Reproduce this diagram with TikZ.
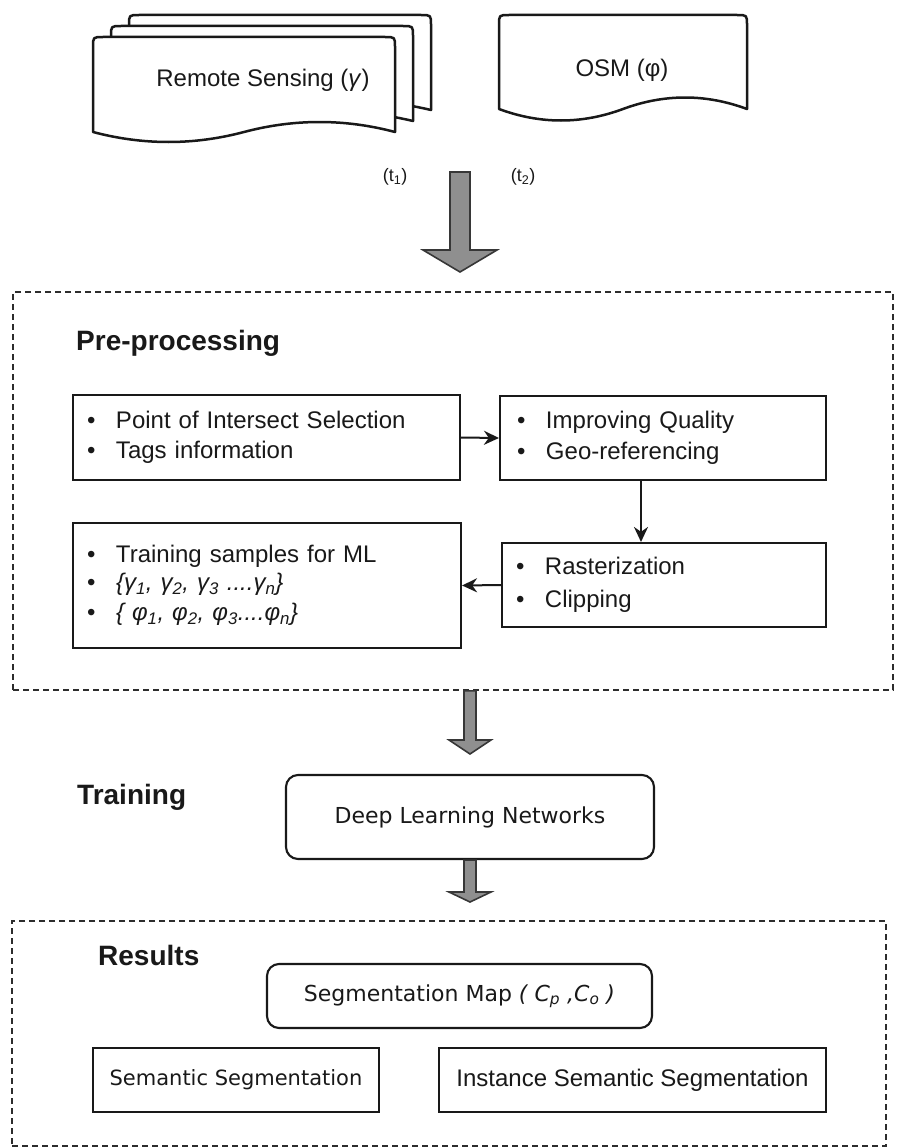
\documentclass[tikz,border=0pt]{standalone}
\usepackage{fontspec}
\setmainfont{Liberation Sans}
\newfontfamily\dejavu{DejaVu Sans}
\usetikzlibrary{arrows.meta,calc}
\definecolor{tcol}{RGB}{25,25,25}
\definecolor{lcol}{RGB}{25,25,25}
\definecolor{dcol}{RGB}{45,45,45}
\definecolor{afill}{RGB}{143,143,143}
\definecolor{aline}{RGB}{55,55,55}
\newcommand{\docshape}[6]{%
  \draw[docline] (#1,#4) -- (#1,{#2+#6}) .. controls (#1,#2) .. ({#1+#6},#2)
    -- ({#3-#6},#2) .. controls (#3,#2) .. (#3,{#2+#6}) -- (#3,#4)
    .. controls ({#3-(#3-#1)/6},{#4-4*#5/3}) and ({(#1+#3)/2+(#3-#1)/6},{#4-4*#5/3}) .. ({(#1+#3)/2},#4)
    .. controls ({(#1+#3)/2-(#3-#1)/6},{#4+4*#5/3}) and ({#1+(#3-#1)/6},{#4+4*#5/3}) .. (#1,#4) -- cycle;}
\newcommand{\fatarrow}[5]{%
  \draw[fatarr] let \p1=(#1), \p2=(#2) in
    ({\x1-#3pt},\y1) -- ({\x1-#3pt},{\y2+#5pt}) -- ({\x1-#4pt},{\y2+#5pt}) -- (\x1,\y2)
    -- ({\x1+#4pt},{\y2+#5pt}) -- ({\x1+#3pt},{\y2+#5pt}) -- ({\x1+#3pt},\y1) -- cycle;}
\newcommand{\mybul}{\makebox[29pt][l]{\textbullet}}
\begin{document}
\begin{tikzpicture}[x=1pt,y=-1pt,
  docline/.style={draw=lcol, line width=2.5pt, fill=white, line join=round},
  fatarr/.style={draw=aline, line width=1.6pt, fill=afill, line join=miter},
  dashbox/.style={draw=dcol, line width=1.6pt, dash pattern=on 6pt off 4pt, inner sep=0pt},
  plainbox/.style={draw=lcol, line width=2.1pt, inner sep=0pt},
  roundbox/.style={draw=lcol, line width=2.1pt, rounded corners=12pt, inner sep=0pt},
  bullettext/.style={align=left, inner ysep=0pt},
  txt/.style={text=tcol, font=\fontsize{24}{30}\selectfont},
  djv/.style={text=tcol, font=\dejavu\fontsize{22}{27}\selectfont},
  lbl/.style={text=tcol, anchor=west, inner sep=0pt, font=\bfseries\fontsize{28}{33}\selectfont},
  smalltxt/.style={text=tcol, font=\fontsize{18}{20}\selectfont},
  conn/.style={draw=lcol, line width=2pt, -{Stealth[length=15pt,width=14pt]}}
]
\fill[white] (0,0) rectangle (897,1148);
\useasboundingbox (0,0) rectangle (897,1148);

% dashed group boxes
\node[dashbox, minimum width=880pt, minimum height=398pt] (pre) at (453,491) {};
\node[dashbox, minimum width=874pt, minimum height=225pt] (res) at (449,1033.5) {};

% input documents
\docshape{129}{15}{431}{110}{9}{10}
\docshape{111}{26}{413}{121}{9}{10}
\docshape{93}{37}{395}{132}{10}{10}
\docshape{499}{15}{747}{109}{11.5}{10}
\node[txt] (rs) at (263,80) {Remote Sensing (\textit{γ})};
\node[txt] (osm) at (622,70) {OSM (φ)};
\node[smalltxt] (t1) at (395,177) {(t\textsubscript{1})};
\node[smalltxt] (t2) at (523,177) {(t\textsubscript{2})};

% labels
\node[lbl] (lpre) at (76,343) {Pre-processing};
\node[lbl] (ltr) at (77,797) {Training};
\node[lbl] (lres) at (98,955) {Results};

% pre-processing boxes
\node[plainbox, bullettext, txt, minimum width=387pt, minimum height=85pt, text width=359pt, inner xsep=14pt] (b1) at (266.5,437.5)
  {\mybul Point of Intersect Selection\\ \mybul Tags information};
\node[plainbox, bullettext, txt, font=\fontsize{24}{31}\selectfont, minimum width=326pt, minimum height=84pt, text width=292pt, inner xsep=17pt] (b2) at (663,438)
  {\mybul Improving Quality\\ \mybul Geo-referencing};
\node[plainbox, bullettext, txt, font=\fontsize{24}{28}\selectfont, minimum width=388pt, minimum height=125pt, text width=360pt, inner xsep=14pt] (b3) at (267,585.5)
  {\mybul Training samples for ML\\
   \mybul \textit{\{γ\textsubscript{1}, γ\textsubscript{2}, γ\textsubscript{3} ....γ\textsubscript{n}\}}\\[2pt]
   \mybul \textit{\{ φ\textsubscript{1}, φ\textsubscript{2}, φ\textsubscript{3}....φ\textsubscript{n}\}}};
\node[plainbox, bullettext, txt, font=\fontsize{24}{33}\selectfont, minimum width=324pt, minimum height=84pt, text width=296pt, inner xsep=14pt] (b4) at (664,585)
  {\mybul Rasterization\\ \mybul Clipping};

\coordinate (vx) at (641,0);
\draw[conn] (b1.east) -- (b2.west);
\draw[conn] (b2.south -| vx) -- (b4.north -| vx);
\draw[conn] (b4.west) -- (b3.east);

% training
\node[roundbox, djv, minimum width=368pt, minimum height=84pt] (dln) at (470,817) {Deep Learning Networks};

% results
\node[roundbox, djv, minimum width=385pt, minimum height=64pt] (seg) at (459.5,996)
  {Segmentation Map \textit{( C\textsubscript{p} ,C\textsubscript{o} )}};
\node[plainbox, djv, font=\dejavu\fontsize{21}{26}\selectfont, minimum width=286pt, minimum height=64pt] (sem) at (236,1080) {Semantic Segmentation};
\node[plainbox, txt, minimum width=387pt, minimum height=64pt] (ins) at (632.5,1080) {Instance Semantic Segmentation};

% fat arrows
\coordinate (a1s) at (460,172);
\coordinate (a1t) at (460,272);
\fatarrow{a1s}{a1t}{10}{37}{22}
\coordinate (a2s) at (pre.south -| dln.north);
\coordinate (a2t) at (470,754);
\fatarrow{a2s}{a2t}{6}{21}{14}
\coordinate (a3t) at (470,902);
\fatarrow{dln.south}{a3t}{6}{21}{10}
\end{tikzpicture}
\end{document}
